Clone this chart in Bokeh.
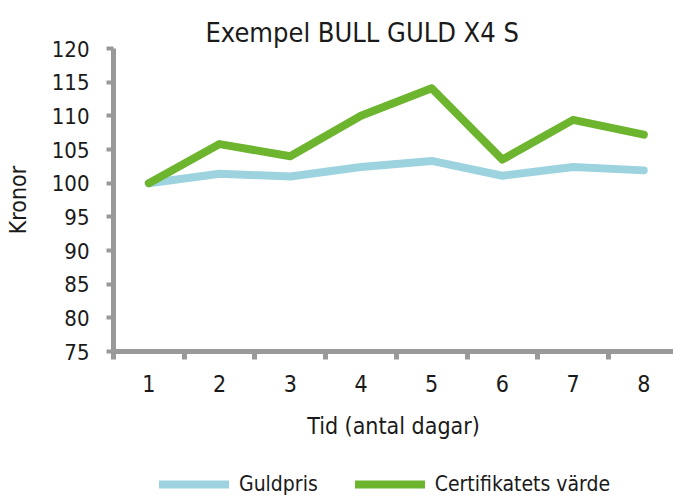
from bokeh.plotting import figure
from bokeh.models import Range1d, FixedTicker, Legend, LegendItem, Title
from bokeh.layouts import column
from bokeh.embed import file_html
from bokeh.resources import INLINE

days = [1, 2, 3, 4, 5, 6, 7, 8]
guldpris = [100, 101.4, 101.0, 102.4, 103.3, 101.1, 102.4, 101.9]
certifikat = [100, 105.8, 104.0, 110.0, 114.1, 103.5, 109.4, 107.2]
y_ticks = [75, 80, 85, 90, 95, 100, 105, 110, 115, 120]
title_text = "Exempel BULL GULD X4 S"
x_label = "Tid (antal dagar)"
y_label = "Kronor"
series_names = ["Guldpris", "Certifikatets värde"]

FONT = "DejaVu Sans Condensed"
GRAY = "#999999"
TXT = "#1a1a1a"
BLUE = "#9dd3df"
GREEN = "#6db52e"

p = figure(frame_width=560, frame_height=303, output_backend="svg", toolbar_location=None,
           x_range=Range1d(0.5, 8.42), y_range=Range1d(75, 120),
           min_border_left=113, min_border_right=0, min_border_top=48, min_border_bottom=118)
p.outline_line_color = None
p.xgrid.visible = False
p.ygrid.visible = False

t = Title(text=title_text, align="left", offset=92, text_font=FONT,
          text_font_size="27px", text_font_style="normal", text_color=TXT, standoff=2)
p.add_layout(t, "above")

p.line(days, guldpris, line_color=BLUE, line_width=8, line_cap="round", line_join="round")
p.line(days, certifikat, line_color=GREEN, line_width=8, line_cap="round", line_join="round")

for ax in (p.xaxis[0], p.yaxis[0]):
    ax.axis_line_width = 5
    ax.axis_line_color = GRAY
    ax.major_label_text_font = FONT
    ax.major_label_text_font_size = "22px"
    ax.major_label_text_color = TXT
    ax.axis_label_text_font = FONT
    ax.axis_label_text_font_size = "23px"
    ax.axis_label_text_font_style = "normal"
    ax.axis_label_text_color = TXT

ya = p.yaxis[0]
ya.ticker = FixedTicker(ticks=y_ticks)
ya.major_tick_line_color = GRAY
ya.major_tick_line_width = 4
ya.major_tick_out = 7
ya.major_tick_in = 0
ya.minor_tick_line_color = None
ya.major_label_standoff = 17
ya.axis_label = y_label
ya.axis_label_standoff = 18

xa = p.xaxis[0]
xa.ticker = FixedTicker(ticks=days, minor_ticks=[d - 0.5 for d in days] + [8.5])
xa.major_tick_line_color = None
xa.major_tick_out = 0
xa.major_tick_in = 0
xa.minor_tick_line_color = GRAY
xa.minor_tick_line_width = 5
xa.minor_tick_out = 8
xa.minor_tick_in = 0
xa.major_label_text_font_size = "23px"
xa.major_label_standoff = 15
xa.axis_label = x_label
xa.axis_label_standoff = 18

# Legend strip below the chart (series drawn out of view, legend only)
lg = figure(width=673, height=27, output_backend="svg", toolbar_location=None,
            x_range=Range1d(0, 1), y_range=Range1d(0, 1),
            x_axis_location=None, y_axis_location=None,
            min_border=0, min_border_left=0, min_border_right=0,
            min_border_top=0, min_border_bottom=0)
lg.outline_line_color = None
lg.xgrid.visible = False
lg.ygrid.visible = False
g1 = lg.line(days, guldpris, line_color=BLUE, line_width=8, line_cap="round")
g2 = lg.line(days, certifikat, line_color=GREEN, line_width=8, line_cap="round")

legend = Legend(items=[LegendItem(label=series_names[0], renderers=[g1]),
                       LegendItem(label=series_names[1], renderers=[g2])],
                orientation="horizontal", location=(46, 0),
                label_text_font=FONT, label_text_font_size="21px", label_text_color=TXT,
                glyph_width=70, glyph_height=20, label_standoff=10, spacing=37,
                border_line_color=None, background_fill_alpha=0, padding=1, margin=0)
lg.add_layout(legend)

layout = column(p, lg, spacing=0)
open("out.html", "w").write(file_html(layout, INLINE))
